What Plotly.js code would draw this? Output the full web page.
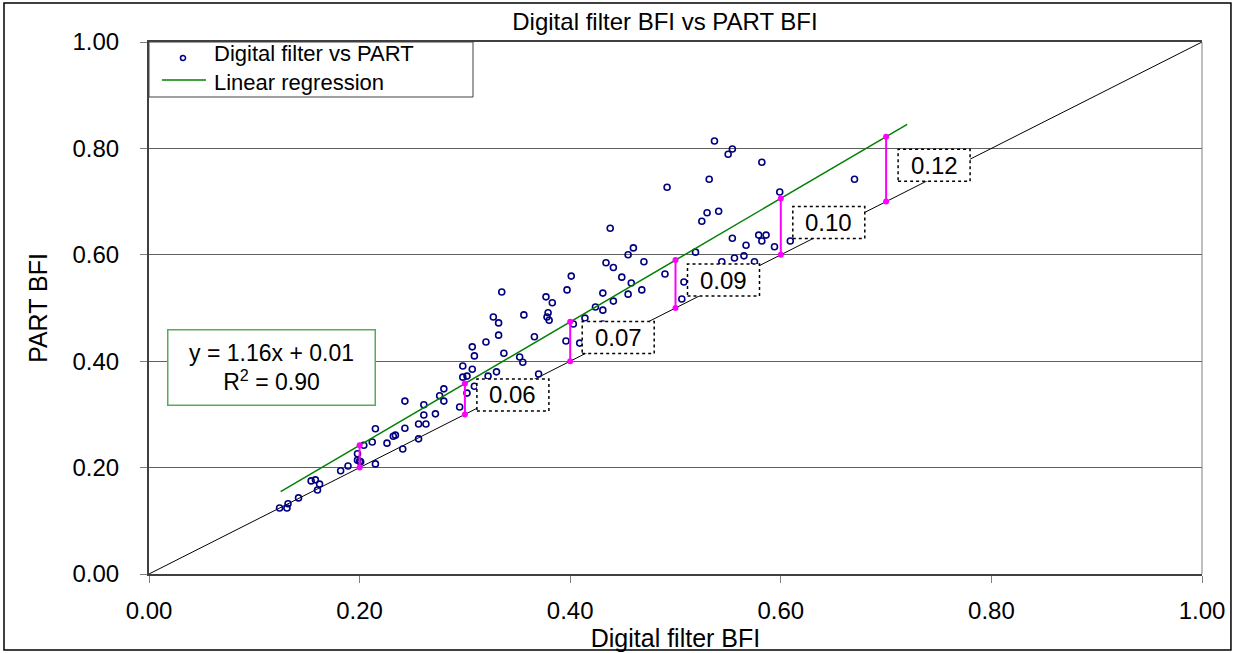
<!DOCTYPE html>
<html>
<head>
<meta charset="utf-8">
<script src="https://cdn.plot.ly/plotly-3.0.1.min.js"></script>
<style>
  html, body { margin: 0; padding: 0; background: #ffffff; }
  #chart { width: 1239px; height: 653px; }
</style>
</head>
<body>
<div id="chart"></div>
<script>
// ---------------- Data ----------------
const digitalBFI = [
  0.124,0.131,0.132,0.142,0.154,0.158,0.162,0.160,0.182,0.189,
  0.198,0.198,0.200,0.201,0.204,0.212,0.215,0.215,0.226,0.232,
  0.234,0.241,0.243,0.243,0.256,0.256,0.261,0.261,0.263,0.272,
  0.276,0.280,0.280,0.295,0.298,0.298,0.302,0.307,0.302,0.309,
  0.307,0.309,0.320,0.322,0.330,0.327,0.332,0.332,0.335,0.337,
  0.352,0.355,0.356,0.366,0.370,0.377,0.383,0.379,0.378,0.380,
  0.397,0.401,0.396,0.403,0.409,0.414,0.492,0.438,0.460,0.455,
  0.434,0.441,0.470,0.449,0.458,0.490,0.431,0.455,0.468,0.441,
  0.424,0.431,0.508,0.506,0.431,0.537,0.554,0.550,0.582,0.532,
  0.599,0.530,0.525,0.541,0.554,0.579,0.586,0.582,0.567,0.594,
  0.609,0.556,0.565,0.575,0.544,0.519,0.670
];
const partBFI = [
  0.124,0.124,0.132,0.143,0.175,0.177,0.169,0.158,0.194,0.203,
  0.226,0.214,0.212,0.211,0.242,0.248,0.273,0.207,0.246,0.259,
  0.261,0.235,0.274,0.325,0.254,0.282,0.299,0.318,0.282,0.301,
  0.335,0.348,0.325,0.314,0.391,0.370,0.372,0.385,0.340,0.353,
  0.427,0.410,0.436,0.372,0.380,0.483,0.472,0.449,0.530,0.415,
  0.408,0.398,0.487,0.446,0.376,0.521,0.510,0.491,0.483,0.477,
  0.534,0.560,0.438,0.470,0.434,0.481,0.727,0.650,0.613,0.600,
  0.585,0.576,0.587,0.558,0.547,0.564,0.528,0.526,0.534,0.513,
  0.502,0.496,0.549,0.517,0.470,0.814,0.799,0.789,0.774,0.742,
  0.718,0.679,0.663,0.682,0.631,0.637,0.637,0.626,0.618,0.615,
  0.626,0.594,0.598,0.587,0.587,0.605,0.742
];

const fitSlope = 1.16;
const fitIntercept = 0.01;
const fitXRange = [0.125, 0.72];
const oneToOne = [0, 1];

const diffX = [0.2, 0.3, 0.4, 0.5, 0.6, 0.7];
const diffLabels = ["", "0.06", "0.07", "0.09", "0.10", "0.12"];

const xTicks = [0, 0.2, 0.4, 0.6, 0.8, 1.0];
const yTicks = [0, 0.2, 0.4, 0.6, 0.8, 1.0];

const titleText = "Digital filter BFI vs PART BFI";
const xTitle = "Digital filter BFI";
const yTitle = "PART BFI";
const seriesName = "Digital filter vs PART";
const fitName = "Linear regression";
const eqText = "y = 1.16x + 0.01<br>R<sup>2</sup> = 0.90";

// ---------------- Build ----------------
const fit = x => fitSlope * x + fitIntercept;
const FONT = "Liberation Sans, Arial, Helvetica, sans-serif";
const NAVY = '#000080', GREEN = '#008000';

const segX = [], segY = [];
diffX.forEach(x => { segX.push(x, x, null); segY.push(x, fit(x), null); });

const traces = [
  { x: oneToOne, y: oneToOne, mode: 'lines', line: {color: '#000000', width: 1},
    showlegend: false, hoverinfo: 'skip' },
  { x: digitalBFI, y: partBFI, mode: 'markers', name: seriesName, showlegend: false,
    marker: {symbol: 'circle-open', size: 6, color: NAVY, line: {width: 1.6, color: NAVY}} },
  { x: fitXRange, y: fitXRange.map(fit), mode: 'lines', name: fitName, showlegend: false,
    line: {color: GREEN, width: 1.5} },
  { x: segX, y: segY, mode: 'lines+markers', showlegend: false, hoverinfo: 'skip',
    line: {color: '#ff00ff', width: 2}, marker: {color: '#ff00ff', size: 6} }
];

const shapes = [
  // outer border of the chart
  { type: 'rect', xref: 'paper', yref: 'paper', x0: -0.1377, x1: 1.0275, y0: -0.1429, y1: 1.0733,
    line: {color: '#000000', width: 1.5}, layer: 'below' },
  // right frame line
  { type: 'line', xref: 'paper', yref: 'paper', x0: 1, x1: 1, y0: 0, y1: 1,
    line: {color: '#808080', width: 1} },
  // legend box
  { type: 'rect', xref: 'paper', yref: 'paper', x0: 0, x1: 0.3077, y0: 0.8966, y1: 1,
    fillcolor: '#ffffff', line: {color: '#404040', width: 1}, layer: 'above' },
  // legend symbol: marker
  { type: 'circle', xref: 'paper', yref: 'paper', xsizemode: 'pixel', ysizemode: 'pixel',
    xanchor: 0.0323, yanchor: 0.9699, x0: -2.5, x1: 2.5, y0: -2.5, y1: 2.5,
    line: {color: NAVY, width: 1.6}, layer: 'above' },
  // legend symbol: line
  { type: 'line', xref: 'paper', yref: 'paper', x0: 0.0123, x1: 0.0541, y0: 0.9286, y1: 0.9286,
    line: {color: GREEN, width: 1.5}, layer: 'above' }
];
const annotations = [
  { xref: 'paper', yref: 'paper', x: 0.0598, y: 0.9502, xanchor: 'left', yanchor: 'middle',
    text: seriesName + '<br>' + fitName, align: 'left', showarrow: false,
    font: {family: FONT, size: 22, color: '#000000'} },
  { xref: 'paper', yref: 'paper', x: 0.1168, y: 0.388, xanchor: 'center', yanchor: 'middle',
    text: eqText, showarrow: false, align: 'center',
    font: {family: FONT, size: 23, color: '#000000'},
    bgcolor: '#ffffff', bordercolor: '#5aaa5a', borderwidth: 1.5, borderpad: 2,
    width: 202, height: 70 }
];
diffX.forEach((x, i) => {
  if (!diffLabels[i]) return;
  const mid = (x + fit(x)) / 2;
  shapes.push({ type: 'rect', xref: 'x', yref: 'y', xsizemode: 'pixel', ysizemode: 'pixel',
    xanchor: x, yanchor: mid, x0: 12, x1: 84, y0: -12, y1: 20,
    fillcolor: '#ffffff', line: {color: '#000000', width: 1.5, dash: 'dot'}, layer: 'above' });
  annotations.push({ xref: 'x', yref: 'y', x: x, y: mid, xanchor: 'center', yanchor: 'middle',
    xshift: 48, yshift: 4, text: diffLabels[i], showarrow: false,
    font: {family: FONT, size: 24, color: '#000000'} });
});

const layout = {
  width: 1239, height: 653,
  margin: {l: 149, r: 37, t: 42, b: 79, pad: 0},
  paper_bgcolor: '#ffffff', plot_bgcolor: '#ffffff',
  font: {family: FONT, color: '#000000', size: 22},
  title: {text: titleText, font: {family: FONT, size: 24, color: '#000000'},
          x: 0.49, xref: 'paper', xanchor: 'center', y: 1 - 22/653, yref: 'container', yanchor: 'middle'},
  xaxis: {
    range: [0, 1], tickvals: xTicks, tickformat: '.2f', showgrid: false, zeroline: false,
    showline: true, linecolor: '#404040', linewidth: 2, mirror: true,
    ticks: 'outside', ticklen: 7, tickcolor: '#808080', tickwidth: 1,
    ticklabelstandoff: 7,
    tickfont: {family: FONT, size: 24, color: '#000000'},
    title: {text: xTitle, font: {family: FONT, size: 25, color: '#000000'}, standoff: 4},
    automargin: false, fixedrange: true
  },
  yaxis: {
    range: [0, 1], tickvals: yTicks, tickformat: '.2f', showgrid: true,
    gridcolor: '#606060', gridwidth: 1, zeroline: false,
    showline: true, linecolor: '#404040', linewidth: 2,
    ticks: 'outside', ticklen: 7, tickcolor: '#808080', tickwidth: 1,
    ticklabelstandoff: 16,
    tickfont: {family: FONT, size: 24, color: '#000000'},
    title: {text: yTitle, font: {family: FONT, size: 25, color: '#000000'}, standoff: 18},
    automargin: false, fixedrange: true
  },
  shapes: shapes,
  annotations: annotations,
  showlegend: false
};

Plotly.newPlot('chart', traces, layout, {displayModeBar: false, staticPlot: true});
</script>
</body>
</html>
